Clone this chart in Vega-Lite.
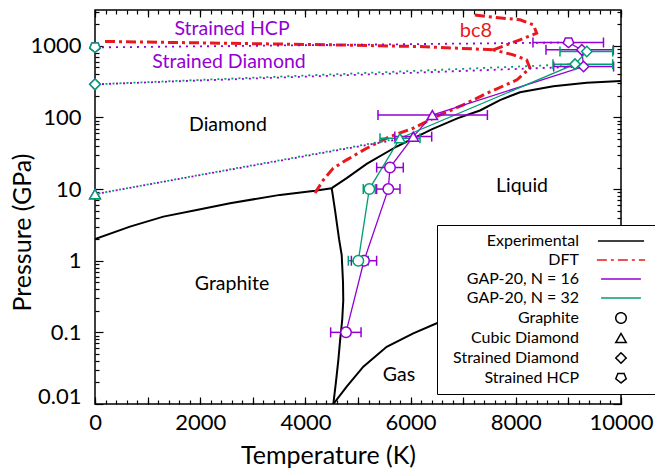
{
  "$schema": "https://vega.github.io/schema/vega-lite/v6.json",
  "width": 526,
  "height": 394,
  "autosize": {"type": "none"},
  "padding": {"left": 95, "top": 10, "right": 34, "bottom": 66},
  "background": "white",
  "config": {
    "view": {"stroke": "black", "strokeWidth": 1.5},
    "font": "Lato",
    "axis": {"grid": false, "domain": false, "labelFont": "Lato", "titleFont": "Lato", "labelColor": "black", "titleColor": "black", "tickColor": "black", "tickWidth": 1.2, "labelFontSize": 22, "titleFontSize": 25, "titleFontWeight": "normal"},
    "legend": {"orient": "none", "legendX": 342, "legendY": 215, "direction": "vertical", "fillColor": "white", "strokeColor": "black", "padding": 8, "labelFont": "Lato", "labelFontSize": 16, "labelColor": "black", "labelAlign": "right", "labelOffset": -50, "symbolOffset": 168, "symbolSize": 110, "symbolStrokeWidth": 1.5, "symbolFillColor": "white", "rowPadding": 3, "zindex": 2}
  },
  "datasets": {
    "exp": [
      {"key": "Experimental", "seg": "gd", "i": 0, "T": 0, "P": 2.0},
      {"key": "Experimental", "seg": "gd", "i": 1, "T": 665, "P": 2.99},
      {"key": "Experimental", "seg": "gd", "i": 2, "T": 1300, "P": 4.13},
      {"key": "Experimental", "seg": "gd", "i": 3, "T": 1933, "P": 5.12},
      {"key": "Experimental", "seg": "gd", "i": 4, "T": 2567, "P": 6.35},
      {"key": "Experimental", "seg": "gd", "i": 5, "T": 3517, "P": 8.3},
      {"key": "Experimental", "seg": "gd", "i": 6, "T": 4183, "P": 9.5},
      {"key": "Experimental", "seg": "gd", "i": 7, "T": 4500, "P": 10.3},
      {"key": "Experimental", "seg": "dl", "i": 0, "T": 4500, "P": 10.3},
      {"key": "Experimental", "seg": "dl", "i": 1, "T": 4785, "P": 14.2},
      {"key": "Experimental", "seg": "dl", "i": 2, "T": 5165, "P": 22.5},
      {"key": "Experimental", "seg": "dl", "i": 3, "T": 5735, "P": 39.3},
      {"key": "Experimental", "seg": "dl", "i": 4, "T": 6400, "P": 68},
      {"key": "Experimental", "seg": "dl", "i": 5, "T": 6900, "P": 98},
      {"key": "Experimental", "seg": "dl", "i": 6, "T": 7319, "P": 125},
      {"key": "Experimental", "seg": "dl", "i": 7, "T": 7700, "P": 175},
      {"key": "Experimental", "seg": "dl", "i": 8, "T": 8080, "P": 225},
      {"key": "Experimental", "seg": "dl", "i": 9, "T": 8713, "P": 272},
      {"key": "Experimental", "seg": "dl", "i": 10, "T": 9348, "P": 305},
      {"key": "Experimental", "seg": "dl", "i": 11, "T": 10000, "P": 324},
      {"key": "Experimental", "seg": "gl", "i": 0, "T": 4500, "P": 10.3},
      {"key": "Experimental", "seg": "gl", "i": 1, "T": 4563, "P": 5.1},
      {"key": "Experimental", "seg": "gl", "i": 2, "T": 4640, "P": 2.0},
      {"key": "Experimental", "seg": "gl", "i": 3, "T": 4690, "P": 1.2},
      {"key": "Experimental", "seg": "gl", "i": 4, "T": 4715, "P": 0.5},
      {"key": "Experimental", "seg": "gl", "i": 5, "T": 4720, "P": 0.28},
      {"key": "Experimental", "seg": "gl", "i": 6, "T": 4700, "P": 0.15},
      {"key": "Experimental", "seg": "gl", "i": 7, "T": 4658, "P": 0.075},
      {"key": "Experimental", "seg": "gl", "i": 8, "T": 4626, "P": 0.041},
      {"key": "Experimental", "seg": "gl", "i": 9, "T": 4580, "P": 0.02},
      {"key": "Experimental", "seg": "gl", "i": 10, "T": 4531, "P": 0.01},
      {"key": "Experimental", "seg": "gas", "i": 0, "T": 4531, "P": 0.01},
      {"key": "Experimental", "seg": "gas", "i": 1, "T": 4785, "P": 0.0175},
      {"key": "Experimental", "seg": "gas", "i": 2, "T": 5101, "P": 0.0332},
      {"key": "Experimental", "seg": "gas", "i": 3, "T": 5545, "P": 0.063},
      {"key": "Experimental", "seg": "gas", "i": 4, "T": 6051, "P": 0.097},
      {"key": "Experimental", "seg": "gas", "i": 5, "T": 6496, "P": 0.134},
      {"key": "Experimental", "seg": "gas", "i": 6, "T": 7500, "P": 0.21},
      {"key": "Experimental", "seg": "gas", "i": 7, "T": 8500, "P": 0.3},
      {"key": "Experimental", "seg": "gas", "i": 8, "T": 10000, "P": 0.42}
    ],
    "dft": [
      {"key": "DFT", "seg": "h", "i": 0, "T": 190, "P": 1150},
      {"key": "DFT", "seg": "h", "i": 1, "T": 4468, "P": 1033},
      {"key": "DFT", "seg": "h", "i": 2, "T": 6179, "P": 977},
      {"key": "DFT", "seg": "h", "i": 3, "T": 7572, "P": 879},
      {"key": "DFT", "seg": "low", "i": 0, "T": 4183, "P": 8.8},
      {"key": "DFT", "seg": "low", "i": 1, "T": 4341, "P": 13.4},
      {"key": "DFT", "seg": "low", "i": 2, "T": 4531, "P": 19.6},
      {"key": "DFT", "seg": "low", "i": 3, "T": 4785, "P": 25.6},
      {"key": "DFT", "seg": "low", "i": 4, "T": 5165, "P": 37.2},
      {"key": "DFT", "seg": "low", "i": 5, "T": 5608, "P": 54.2},
      {"key": "DFT", "seg": "low", "i": 6, "T": 6051, "P": 70.8},
      {"key": "DFT", "seg": "low", "i": 7, "T": 6496, "P": 103},
      {"key": "DFT", "seg": "low", "i": 8, "T": 7000, "P": 150},
      {"key": "DFT", "seg": "low", "i": 9, "T": 7453, "P": 218},
      {"key": "DFT", "seg": "low", "i": 10, "T": 8023, "P": 335},
      {"key": "DFT", "seg": "low", "i": 11, "T": 8270, "P": 488},
      {"key": "DFT", "seg": "low", "i": 12, "T": 8206, "P": 637},
      {"key": "DFT", "seg": "low", "i": 13, "T": 7952, "P": 748},
      {"key": "DFT", "seg": "low", "i": 14, "T": 7572, "P": 879},
      {"key": "DFT", "seg": "up", "i": 0, "T": 7572, "P": 879},
      {"key": "DFT", "seg": "up", "i": 1, "T": 8080, "P": 1213},
      {"key": "DFT", "seg": "up", "i": 2, "T": 8397, "P": 1503},
      {"key": "DFT", "seg": "up", "i": 3, "T": 8333, "P": 1963},
      {"key": "DFT", "seg": "up", "i": 4, "T": 8080, "P": 2306},
      {"key": "DFT", "seg": "up", "i": 5, "T": 7453, "P": 2566},
      {"key": "DFT", "seg": "up", "i": 6, "T": 7200, "P": 2700}
    ],
    "gap": [
      {"series": "GAP-20, N = 16", "i": 0, "T": 4772, "P": 0.1},
      {"series": "GAP-20, N = 16", "i": 1, "T": 5114, "P": 1},
      {"series": "GAP-20, N = 16", "i": 2, "T": 5576, "P": 10},
      {"series": "GAP-20, N = 16", "i": 3, "T": 5608, "P": 20},
      {"series": "GAP-20, N = 16", "i": 4, "T": 6051, "P": 54},
      {"series": "GAP-20, N = 16", "i": 5, "T": 6413, "P": 108},
      {"series": "GAP-20, N = 16", "i": 6, "T": 9288, "P": 514},
      {"series": "GAP-20, N = 16", "i": 7, "T": 9255, "P": 879},
      {"series": "GAP-20, N = 16", "i": 8, "T": 9002, "P": 1112},
      {"series": "GAP-20, N = 32", "i": 0, "T": 5006, "P": 1},
      {"series": "GAP-20, N = 32", "i": 1, "T": 5215, "P": 10},
      {"series": "GAP-20, N = 32", "i": 2, "T": 5798, "P": 51.4},
      {"series": "GAP-20, N = 32", "i": 3, "T": 9126, "P": 555},
      {"series": "GAP-20, N = 32", "i": 4, "T": 9350, "P": 832}
    ],
    "dots": [
      {"series": "GAP-20, N = 16", "grp": "hcp", "T": 0, "P": 950},
      {"series": "GAP-20, N = 16", "grp": "hcp", "T": 9002, "P": 1112},
      {"series": "GAP-20, N = 16", "grp": "sd", "T": 0, "P": 290},
      {"series": "GAP-20, N = 16", "grp": "sd", "T": 9288, "P": 514},
      {"series": "GAP-20, N = 16", "grp": "cd", "T": 0, "P": 8.5},
      {"series": "GAP-20, N = 16", "grp": "cd", "T": 6051, "P": 54},
      {"series": "GAP-20, N = 32", "grp": "sd", "T": 0, "P": 290},
      {"series": "GAP-20, N = 32", "grp": "sd", "T": 9126, "P": 555},
      {"series": "GAP-20, N = 32", "grp": "cd", "T": 0, "P": 8.5},
      {"series": "GAP-20, N = 32", "grp": "cd", "T": 5798, "P": 51.4}
    ],
    "pts": [
      {"series": "GAP-20, N = 16", "key": "Graphite", "T": 4772, "P": 0.1, "lo": 4480, "hi": 5058},
      {"series": "GAP-20, N = 16", "key": "Graphite", "T": 5114, "P": 1, "lo": 4874, "hi": 5354},
      {"series": "GAP-20, N = 16", "key": "Graphite", "T": 5576, "P": 10, "lo": 5354, "hi": 5798},
      {"series": "GAP-20, N = 16", "key": "Graphite", "T": 5608, "P": 20, "lo": 5355, "hi": 5861},
      {"series": "GAP-20, N = 16", "key": "Cubic Diamond", "T": 6051, "P": 54, "lo": 5700, "hi": 6401},
      {"series": "GAP-20, N = 16", "key": "Cubic Diamond", "T": 6413, "P": 108, "lo": 5380, "hi": 7460},
      {"series": "GAP-20, N = 16", "key": "Strained Diamond", "T": 9288, "P": 514, "lo": 8720, "hi": 9859},
      {"series": "GAP-20, N = 16", "key": "Strained Diamond", "T": 9255, "P": 879, "lo": 8574, "hi": 9855},
      {"series": "GAP-20, N = 16", "key": "Strained HCP", "T": 9002, "P": 1112, "lo": 8326, "hi": 9667},
      {"series": "GAP-20, N = 16", "key": "Cubic Diamond", "T": 0, "P": 8.5},
      {"series": "GAP-20, N = 16", "key": "Strained Diamond", "T": 0, "P": 290},
      {"series": "GAP-20, N = 16", "key": "Strained HCP", "T": 0, "P": 950},
      {"series": "GAP-20, N = 32", "key": "Graphite", "T": 5006, "P": 1, "lo": 4816, "hi": 5196},
      {"series": "GAP-20, N = 32", "key": "Graphite", "T": 5215, "P": 10, "lo": 5100, "hi": 5330},
      {"series": "GAP-20, N = 32", "key": "Cubic Diamond", "T": 5798, "P": 51.4, "lo": 5418, "hi": 6179},
      {"series": "GAP-20, N = 32", "key": "Strained Diamond", "T": 9126, "P": 555, "lo": 8707, "hi": 9842},
      {"series": "GAP-20, N = 32", "key": "Strained Diamond", "T": 9350, "P": 832, "lo": 8840, "hi": 9843},
      {"series": "GAP-20, N = 32", "key": "Cubic Diamond", "T": 0, "P": 8.5},
      {"series": "GAP-20, N = 32", "key": "Strained Diamond", "T": 0, "P": 290},
      {"series": "GAP-20, N = 32", "key": "Strained HCP", "T": 0, "P": 950}
    ],
    "phaseLabels": [
      {"label": "Diamond", "T": 2528, "P": 79},
      {"label": "Liquid", "T": 8118, "P": 11.1},
      {"label": "Graphite", "T": 2605, "P": 0.474},
      {"label": "Gas", "T": 5780, "P": 0.0254}
    ],
    "structLabels": [
      {"label": "Strained HCP", "T": 2605, "P": 1726},
      {"label": "Strained Diamond", "T": 2548, "P": 598}
    ],
    "dftLabels": [
      {"label": "bc8", "T": 7243, "P": 1618}
    ]
  },
  "layer": [
    {
      "data": {"name": "exp"},
      "mark": {"type": "line", "strokeWidth": 2, "clip": true},
      "encoding": {
        "x": {"field": "T", "type": "quantitative", "scale": {"domain": [0, 10000], "nice": false, "zero": false},
              "axis": {"orient": "bottom", "values": [0, 2000, 4000, 6000, 8000, 10000], "ticks": false, "labelPadding": 8, "labelFlush": false, "format": "d", "title": "Temperature (K)", "titleX": 233, "titleY": 51, "titleAlign": "center", "titleBaseline": "middle"}},
        "y": {"field": "P", "type": "quantitative", "scale": {"type": "log", "domain": [0.01, 3162], "nice": false},
              "axis": {"orient": "left", "values": [0.01, 0.1, 1, 10, 100, 1000], "ticks": false, "labelPadding": 14, "labelFlush": true, "labelFlushOffset": 4, "format": "~g", "title": "Pressure (GPa)", "titleX": -73, "titleY": 222, "titleAngle": -90, "titleAlign": "center", "titleBaseline": "middle"}},
        "detail": {"field": "seg", "type": "nominal"},
        "order": {"field": "i", "type": "quantitative"},
        "color": {"field": "key", "type": "nominal",
                  "legend": {"title": null, "symbolSize": 110, "encode": {"symbols": {"update": {"fill": {"value": "white"}}}}},
                  "scale": {"domain": ["Experimental", "DFT", "GAP-20, N = 16", "GAP-20, N = 32", "Graphite", "Cubic Diamond", "Strained Diamond", "Strained HCP"],
                            "range": ["#000000", "#e8181c", "#9400d3", "#009e73", "#000000", "#000000", "#000000", "#000000"]}}
      }
    },
    {
      "data": {"name": "dft"},
      "mark": {"type": "line", "strokeWidth": 3, "clip": true},
      "encoding": {
        "x": {"field": "T", "type": "quantitative", "scale": {"domain": [0, 10000], "nice": false, "zero": false},
              "axis": {"orient": "bottom", "values": [0, 1000, 2000, 3000, 4000, 5000, 6000, 7000, 8000, 9000, 10000], "labels": false, "tickSize": -7, "title": null}},
        "y": {"field": "P", "type": "quantitative", "scale": {"type": "log", "domain": [0.01, 3162], "nice": false},
              "axis": {"orient": "left", "values": [0.01, 0.1, 1, 10, 100, 1000], "labels": false, "tickSize": -8, "title": null}},
        "detail": {"field": "seg", "type": "nominal"},
        "order": {"field": "i", "type": "quantitative"},
        "color": {"field": "key", "type": "nominal",
                  "legend": {"title": null, "symbolSize": 110, "encode": {"symbols": {"update": {"fill": {"value": "white"}}}}},
                  "scale": {"domain": ["Experimental", "DFT", "GAP-20, N = 16", "GAP-20, N = 32", "Graphite", "Cubic Diamond", "Strained Diamond", "Strained HCP"],
                            "range": ["#000000", "#e8181c", "#9400d3", "#009e73", "#000000", "#000000", "#000000", "#000000"]}},
        "strokeDash": {"field": "key", "type": "nominal",
                       "legend": {"title": null, "symbolSize": 110, "encode": {"symbols": {"update": {"fill": {"value": "white"}}}}},
                       "scale": {"domain": ["Experimental", "DFT", "GAP-20, N = 16", "GAP-20, N = 32", "Graphite", "Cubic Diamond", "Strained Diamond", "Strained HCP"],
                                 "range": [[1, 0], [10, 4, 3, 4], [1, 0], [1, 0], [1, 0], [1, 0], [1, 0], [1, 0]]}}
      }
    },
    {
      "data": {"name": "gap"},
      "mark": {"type": "line", "strokeWidth": 1.3, "clip": true},
      "encoding": {
        "x": {"field": "T", "type": "quantitative", "scale": {"domain": [0, 10000], "nice": false, "zero": false},
              "axis": {"orient": "bottom", "values": [0,200,400,600,800,1000,1200,1400,1600,1800,2000,2200,2400,2600,2800,3000,3200,3400,3600,3800,4000,4200,4400,4600,4800,5000,5200,5400,5600,5800,6000,6200,6400,6600,6800,7000,7200,7400,7600,7800,8000,8200,8400,8600,8800,9000,9200,9400,9600,9800,10000], "labels": false, "tickSize": -4, "title": null}},
        "y": {"field": "P", "type": "quantitative", "scale": {"type": "log", "domain": [0.01, 3162], "nice": false},
              "axis": {"orient": "left", "values": [0.02,0.03,0.04,0.05,0.06,0.07,0.08,0.09,0.2,0.3,0.4,0.5,0.6,0.7,0.8,0.9,2,3,4,5,6,7,8,9,20,30,40,50,60,70,80,90,200,300,400,500,600,700,800,900,2000,3000], "labels": false, "tickSize": -4, "title": null}},
        "detail": {"field": "series", "type": "nominal"},
        "order": {"field": "i", "type": "quantitative"},
        "color": {"field": "series", "type": "nominal",
                  "legend": {"title": null, "symbolSize": 110, "encode": {"symbols": {"update": {"fill": {"value": "white"}}}}},
                  "scale": {"domain": ["Experimental", "DFT", "GAP-20, N = 16", "GAP-20, N = 32", "Graphite", "Cubic Diamond", "Strained Diamond", "Strained HCP"],
                            "range": ["#000000", "#e8181c", "#9400d3", "#009e73", "#000000", "#000000", "#000000", "#000000"]}}
      }
    },
    {
      "data": {"name": "dots"},
      "transform": [{"filter": "datum.series === 'GAP-20, N = 16'"}],
      "mark": {"type": "line", "strokeWidth": 1.8, "strokeDash": [2, 5], "clip": true},
      "encoding": {
        "x": {"field": "T", "type": "quantitative", "scale": {"domain": [0, 10000], "nice": false, "zero": false},
              "axis": {"orient": "top", "values": [0, 1000, 2000, 3000, 4000, 5000, 6000, 7000, 8000, 9000, 10000], "labels": false, "tickSize": -7, "title": null}},
        "y": {"field": "P", "type": "quantitative", "scale": {"type": "log", "domain": [0.01, 3162], "nice": false},
              "axis": {"orient": "right", "values": [0.01, 0.1, 1, 10, 100, 1000], "labels": false, "tickSize": -8, "title": null}},
        "detail": {"field": "grp", "type": "nominal"},
        "color": {"field": "series", "type": "nominal",
                  "legend": {"title": null, "symbolSize": 110, "encode": {"symbols": {"update": {"fill": {"value": "white"}}}}},
                  "scale": {"domain": ["Experimental", "DFT", "GAP-20, N = 16", "GAP-20, N = 32", "Graphite", "Cubic Diamond", "Strained Diamond", "Strained HCP"],
                            "range": ["#000000", "#e8181c", "#9400d3", "#009e73", "#000000", "#000000", "#000000", "#000000"]}}
      }
    },
    {
      "data": {"name": "dots"},
      "transform": [{"filter": "datum.series === 'GAP-20, N = 32'"}],
      "mark": {"type": "line", "strokeWidth": 1.8, "strokeDash": [2, 5], "strokeDashOffset": 3.5, "clip": true},
      "encoding": {
        "x": {"field": "T", "type": "quantitative", "scale": {"domain": [0, 10000], "nice": false, "zero": false},
              "axis": {"orient": "top", "values": [0,200,400,600,800,1000,1200,1400,1600,1800,2000,2200,2400,2600,2800,3000,3200,3400,3600,3800,4000,4200,4400,4600,4800,5000,5200,5400,5600,5800,6000,6200,6400,6600,6800,7000,7200,7400,7600,7800,8000,8200,8400,8600,8800,9000,9200,9400,9600,9800,10000], "labels": false, "tickSize": -4, "title": null}},
        "y": {"field": "P", "type": "quantitative", "scale": {"type": "log", "domain": [0.01, 3162], "nice": false},
              "axis": {"orient": "right", "values": [0.02,0.03,0.04,0.05,0.06,0.07,0.08,0.09,0.2,0.3,0.4,0.5,0.6,0.7,0.8,0.9,2,3,4,5,6,7,8,9,20,30,40,50,60,70,80,90,200,300,400,500,600,700,800,900,2000,3000], "labels": false, "tickSize": -4, "title": null}},
        "detail": {"field": "grp", "type": "nominal"},
        "color": {"field": "series", "type": "nominal",
                  "legend": {"title": null, "symbolSize": 110, "encode": {"symbols": {"update": {"fill": {"value": "white"}}}}},
                  "scale": {"domain": ["Experimental", "DFT", "GAP-20, N = 16", "GAP-20, N = 32", "Graphite", "Cubic Diamond", "Strained Diamond", "Strained HCP"],
                            "range": ["#000000", "#e8181c", "#9400d3", "#009e73", "#000000", "#000000", "#000000", "#000000"]}}
      }
    },
    {
      "data": {"name": "pts"},
      "transform": [{"filter": "isValid(datum.lo)"}],
      "mark": {"type": "rule", "strokeWidth": 1.5},
      "encoding": {
        "x": {"field": "lo", "type": "quantitative", "scale": {"domain": [0, 10000], "nice": false, "zero": false}, "axis": null},
        "x2": {"field": "hi"},
        "y": {"field": "P", "type": "quantitative", "scale": {"type": "log", "domain": [0.01, 3162], "nice": false}, "axis": null},
        "color": {"field": "series", "type": "nominal",
                  "legend": {"title": null, "symbolSize": 110, "encode": {"symbols": {"update": {"fill": {"value": "white"}}}}},
                  "scale": {"domain": ["Experimental", "DFT", "GAP-20, N = 16", "GAP-20, N = 32", "Graphite", "Cubic Diamond", "Strained Diamond", "Strained HCP"],
                            "range": ["#000000", "#e8181c", "#9400d3", "#009e73", "#000000", "#000000", "#000000", "#000000"]}}
      }
    },
    {
      "data": {"name": "pts"},
      "transform": [{"filter": "isValid(datum.lo)"}],
      "mark": {"type": "point", "shape": "M0,-1L0,1", "size": 100, "filled": false, "strokeWidth": 1.5, "opacity": 1},
      "encoding": {
        "x": {"field": "lo", "type": "quantitative", "scale": {"domain": [0, 10000], "nice": false, "zero": false}, "axis": null},
        "y": {"field": "P", "type": "quantitative", "scale": {"type": "log", "domain": [0.01, 3162], "nice": false}, "axis": null},
        "color": {"field": "series", "type": "nominal",
                  "legend": {"title": null, "symbolSize": 110, "encode": {"symbols": {"update": {"fill": {"value": "white"}}}}},
                  "scale": {"domain": ["Experimental", "DFT", "GAP-20, N = 16", "GAP-20, N = 32", "Graphite", "Cubic Diamond", "Strained Diamond", "Strained HCP"],
                            "range": ["#000000", "#e8181c", "#9400d3", "#009e73", "#000000", "#000000", "#000000", "#000000"]}}
      }
    },
    {
      "data": {"name": "pts"},
      "transform": [{"filter": "isValid(datum.hi)"}],
      "mark": {"type": "point", "shape": "M0,-1L0,1", "size": 100, "filled": false, "strokeWidth": 1.5, "opacity": 1},
      "encoding": {
        "x": {"field": "hi", "type": "quantitative", "scale": {"domain": [0, 10000], "nice": false, "zero": false}, "axis": null},
        "y": {"field": "P", "type": "quantitative", "scale": {"type": "log", "domain": [0.01, 3162], "nice": false}, "axis": null},
        "color": {"field": "series", "type": "nominal",
                  "legend": {"title": null, "symbolSize": 110, "encode": {"symbols": {"update": {"fill": {"value": "white"}}}}},
                  "scale": {"domain": ["Experimental", "DFT", "GAP-20, N = 16", "GAP-20, N = 32", "Graphite", "Cubic Diamond", "Strained Diamond", "Strained HCP"],
                            "range": ["#000000", "#e8181c", "#9400d3", "#009e73", "#000000", "#000000", "#000000", "#000000"]}}
      }
    },
    {
      "data": {"name": "pts"},
      "mark": {"type": "point", "filled": false, "fill": "white", "size": 110, "strokeWidth": 1.5, "opacity": 1},
      "encoding": {
        "x": {"field": "T", "type": "quantitative", "scale": {"domain": [0, 10000], "nice": false, "zero": false}, "axis": null},
        "y": {"field": "P", "type": "quantitative", "scale": {"type": "log", "domain": [0.01, 3162], "nice": false}, "axis": null},
        "color": {"field": "series", "type": "nominal",
                  "legend": {"title": null, "symbolSize": 110, "encode": {"symbols": {"update": {"fill": {"value": "white"}}}}},
                  "scale": {"domain": ["Experimental", "DFT", "GAP-20, N = 16", "GAP-20, N = 32", "Graphite", "Cubic Diamond", "Strained Diamond", "Strained HCP"],
                            "range": ["#000000", "#e8181c", "#9400d3", "#009e73", "#000000", "#000000", "#000000", "#000000"]}},
        "shape": {"field": "key", "type": "nominal",
                  "legend": {"title": null, "symbolSize": 110, "encode": {"symbols": {"update": {"fill": {"value": "white"}}}}},
                  "scale": {"domain": ["Experimental", "DFT", "GAP-20, N = 16", "GAP-20, N = 32", "Graphite", "Cubic Diamond", "Strained Diamond", "Strained HCP"],
                            "range": ["M-4.4,0L4.4,0", "M-4.6,0L4.6,0", "M-3.8,0L3.8,0", "M-3.8,0L3.8,0", "circle", "triangle-up", "diamond", "M-0.6,-0.85L0.6,-0.85L1,0.15L0,0.95L-1,0.15Z"]}}
      }
    },
    {
      "data": {"name": "phaseLabels"},
      "mark": {"type": "text", "font": "Lato", "fontSize": 19.5, "color": "black"},
      "encoding": {
        "x": {"field": "T", "type": "quantitative", "scale": {"domain": [0, 10000], "nice": false, "zero": false}, "axis": null},
        "y": {"field": "P", "type": "quantitative", "scale": {"type": "log", "domain": [0.01, 3162], "nice": false}, "axis": null},
        "text": {"field": "label"}
      }
    },
    {
      "data": {"name": "structLabels"},
      "mark": {"type": "text", "font": "Lato", "fontSize": 19.5, "color": "#9400d3"},
      "encoding": {
        "x": {"field": "T", "type": "quantitative", "scale": {"domain": [0, 10000], "nice": false, "zero": false}, "axis": null},
        "y": {"field": "P", "type": "quantitative", "scale": {"type": "log", "domain": [0.01, 3162], "nice": false}, "axis": null},
        "text": {"field": "label"}
      }
    },
    {
      "data": {"name": "dftLabels"},
      "mark": {"type": "text", "font": "Lato", "fontSize": 20, "color": "#e8181c"},
      "encoding": {
        "x": {"field": "T", "type": "quantitative", "scale": {"domain": [0, 10000], "nice": false, "zero": false}, "axis": null},
        "y": {"field": "P", "type": "quantitative", "scale": {"type": "log", "domain": [0.01, 3162], "nice": false}, "axis": null},
        "text": {"field": "label"}
      }
    }
  ],
  "resolve": {"axis": {"x": "independent", "y": "independent"}}
}
